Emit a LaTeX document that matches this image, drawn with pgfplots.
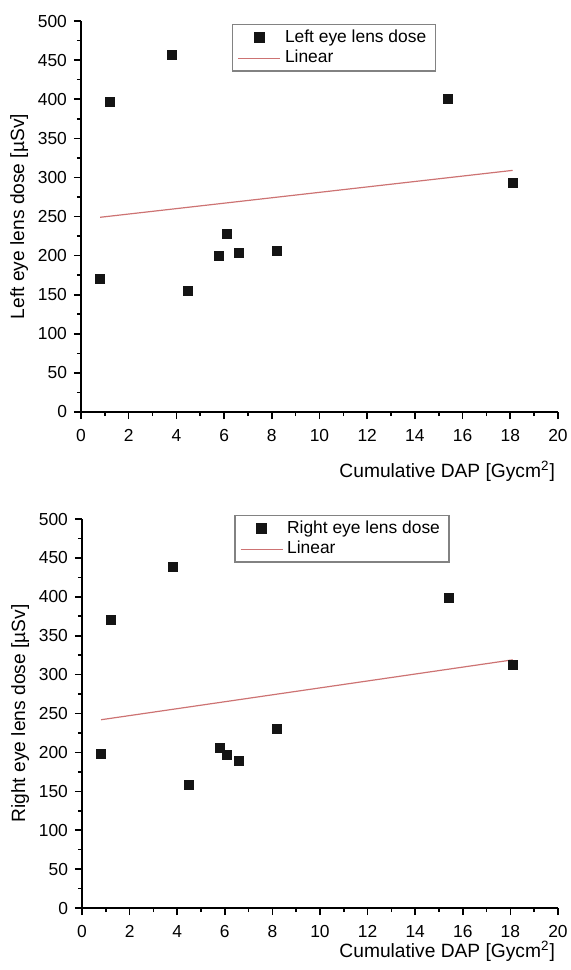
\documentclass[border=0pt]{standalone}
\usepackage{fontspec}
\setmainfont{Liberation Sans}
\usepackage{pgfplots}
\pgfplotsset{compat=1.18}
\definecolor{fitred}{RGB}{205,115,115}
\definecolor{legframe}{RGB}{130,130,130}
\pgfplotsset{
  myaxis/.style={
    scale only axis,
    xmin=0, xmax=20, ymin=0, ymax=500,
    xtick={0,2,...,20}, ytick={0,50,...,500},
    minor x tick num=1, minor y tick num=1,
    axis x line*=bottom, axis y line*=left,
    axis line style={line width=0.9pt,-},
    tick align=outside,
    major tick length=3.5pt, minor tick length=2pt,
    every tick/.style={line width=0.8pt,black},
    tick label style={font=\fontsize{8.7}{10}\selectfont},
    /pgf/number format/assume math mode=true,
    xticklabel style={yshift=-1.5pt},
    label style={font=\fontsize{9.6}{11}\selectfont},
    ylabel style={xshift=0pt, yshift=-2pt},
    clip=false,
    legend style={draw=legframe, line width=0.6pt, anchor=north west,
      font=\fontsize{8.7}{10}\selectfont, inner xsep=2.5pt, inner ysep=0.5pt,
      row sep=-1.5pt, cells={anchor=west}},
    legend image code/.code={\draw[mark repeat=2,mark phase=2,#1] plot coordinates {(0pt,0pt)(10.5pt,0pt)(21pt,0pt)};},
  },
  pts/.style={only marks, mark=square*, mark size=2.25pt, mark options={fill=black!92, draw=black!92}},
  fit/.style={fitred, line width=0.6pt, mark=none},
}
\begin{document}
\begin{tikzpicture}
\useasboundingbox (0,0) rectangle (285pt,-485pt);
% Top plot
\begin{axis}[myaxis, at={(40.5pt,-206pt)}, anchor=south west,
  width=238.5pt, height=195.5pt,
  ylabel={Left eye lens dose [µSv]},
  xlabel={Cumulative DAP [Gycm\textsuperscript{2}]},
  xlabel style={at={(axis description cs:1,0)}, anchor=north east, xshift=2pt, yshift=-21pt},
  legend style={at={(axis description cs:0.317,0.992)}}]
\addplot[pts] coordinates {
(0.8,170) (1.2,396) (3.8,457) (4.5,155) (5.8,199) (6.1,228) (6.6,204) (8.2,206) (15.4,400) (18.1,293)};
\addlegendentry{Left eye lens dose}
\addplot[fit] coordinates {(0.8,249) (18.1,309)};
\addlegendentry{Linear}
\end{axis}
% Bottom plot
\begin{axis}[myaxis, at={(41pt,-454pt)}, anchor=south west,
  width=238pt, height=194.5pt,
  ylabel={Right eye lens dose [µSv]},
  xlabel={Cumulative DAP [Gycm\textsuperscript{2}]},
  xlabel style={at={(axis description cs:1,0)}, anchor=north east, xshift=2pt, yshift=-13pt},
  legend style={at={(axis description cs:0.32,1.01)}}]
\addplot[pts] coordinates {
(0.8,198) (1.2,370) (3.8,438) (4.5,158) (5.8,206) (6.1,197) (6.6,189) (8.2,230) (15.4,398) (18.1,312)};
\addlegendentry{Right eye lens dose}
\addplot[fit] coordinates {(0.8,242) (18.1,319)};
\addlegendentry{Linear}
\end{axis}
\end{tikzpicture}
\end{document}
